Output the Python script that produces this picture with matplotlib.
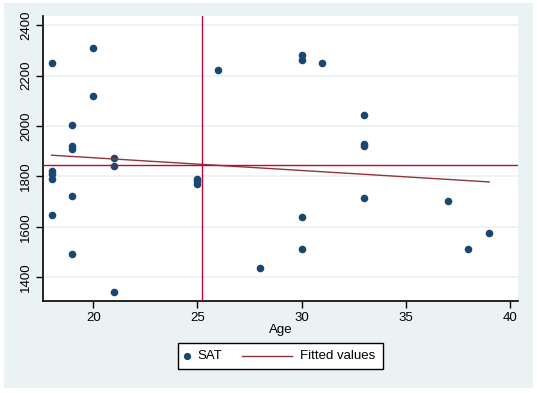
import matplotlib
matplotlib.use("Agg")
import matplotlib.pyplot as plt
from matplotlib.patches import Rectangle
from matplotlib.lines import Line2D
import numpy as np

# ---- data ----
age = [18, 18, 18, 18, 18,
       19, 19, 19, 19, 19,
       20, 20,
       21, 21, 21,
       25, 25, 25,
       26, 28,
       30, 30, 30, 30,
       31,
       33, 33, 33, 33,
       37, 38, 39]
sat = [2250, 1820, 1810, 1790, 1645,
       2005, 1920, 1910, 1722, 1492,
       2308, 2120,
       1872, 1843, 1340,
       1790, 1780, 1768,
       2223, 1435,
       2283, 2262, 1640, 1512,
       2250,
       2042, 1930, 1922, 1715,
       1702, 1513, 1577]
mean_age = 25.23
mean_sat = 1847
fit_intercept = 1975.0
fit_slope = -5.05
xticks = [20, 25, 30, 35, 40]
yticks = [1400, 1600, 1800, 2000, 2200, 2400]

W, H = 537, 393
fig = plt.figure(figsize=(W / 100, H / 100), dpi=100)
fig.patch.set_facecolor("white")

def fx(px):
    return px / W

def fy(py):
    return 1 - py / H

# outer graph region
fig.add_artist(Rectangle((fx(4), fy(388)), fx(533) - fx(4), fy(3) - fy(388),
                         transform=fig.transFigure, facecolor="#EAF2F3",
                         edgecolor="none", zorder=0))

L, R, T, B = 43, 518, 16, 301
ax = fig.add_axes([fx(L), fy(B), fx(R) - fx(L), fy(T) - fy(B)])
ax.set_facecolor("white")
ax.set_zorder(1)

ax.set_xlim(17.59, 40.38)
ax.set_ylim(1306, 2436)

for yt in yticks:
    ax.axhline(yt, color="#EAF2F3", lw=1.2, zorder=1)

ax.scatter(age, sat, s=30, color="#1A476F", zorder=3, linewidths=0)

xs = np.array([min(age), max(age)])
ax.plot(xs, fit_intercept + fit_slope * xs, color="#90353B", lw=1.0, zorder=4)

ax.axvline(mean_age, color="#C10534", lw=1.0, zorder=5)
ax.axhline(mean_sat, color="#C10534", lw=1.0, zorder=5)

font = "Liberation Sans"
ax.set_xticks(xticks)
ax.set_yticks(yticks)
ax.set_xticklabels([str(v) for v in xticks], fontsize=9.5, family=font)
ax.set_yticklabels([str(v) for v in yticks], fontsize=9.5, family=font,
                   rotation=90, va="center")
ax.tick_params(axis="both", length=5, width=1, color="black", pad=3)
for s in ["top", "right"]:
    ax.spines[s].set_visible(False)
for s in ["left", "bottom"]:
    ax.spines[s].set_color("black")
    ax.spines[s].set_linewidth(1.2)

ax.set_xlabel("Age", fontsize=9.5, family=font, labelpad=0)

# legend (drawn manually)
fig.add_artist(Rectangle((fx(178), fy(369)), fx(383) - fx(178), fy(343) - fy(369),
                         transform=fig.transFigure, facecolor="white",
                         edgecolor="black", lw=1.0, zorder=2))
fig.add_artist(Line2D([fx(187)], [fy(356)], marker="o", markersize=5.2,
                      color="#1A476F", markeredgewidth=0,
                      transform=fig.transFigure, zorder=3))
fig.text(fx(197), fy(356), "SAT", fontsize=9.5, family=font,
         va="center", ha="left", zorder=3)
fig.add_artist(Line2D([fx(242), fx(292)], [fy(356), fy(356)], color="#90353B",
                      lw=1.0, transform=fig.transFigure, zorder=3))
fig.text(fx(300), fy(356), "Fitted values", fontsize=9.5, family=font,
         va="center", ha="left", zorder=3)

fig.savefig("out.png", dpi=100)
